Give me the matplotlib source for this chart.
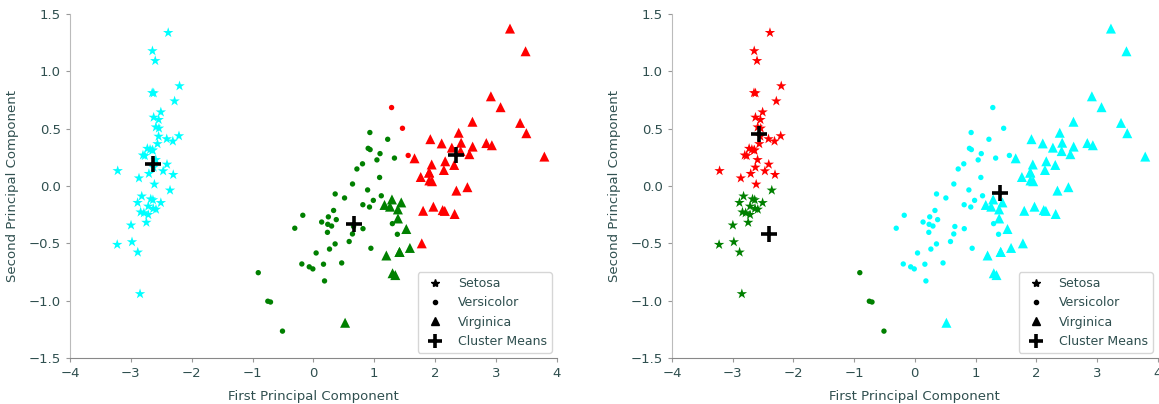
"""
Iris PCA projection coloured by two different 3-cluster solutions.
"""

import numpy as np
import matplotlib
matplotlib.use("Agg")
import matplotlib.pyplot as plt
from matplotlib.lines import Line2D

# First / second principal component of the 150 iris samples
PC1 = [
    -2.684, -2.714, -2.889, -2.745, -2.729, -2.281, -2.821, -2.626, -2.886, -2.673,
    -2.507, -2.613, -2.786, -3.224, -2.645, -2.386, -2.624, -2.648, -2.200, -2.588,
    -2.310, -2.544, -3.216, -2.303, -2.356, -2.507, -2.469, -2.562, -2.640, -2.632,
    -2.587, -2.410, -2.649, -2.599, -2.637, -2.866, -2.625, -2.801, -2.981, -2.590,
    -2.770, -2.849, -2.997, -2.406, -2.209, -2.714, -2.538, -2.839, -2.543, -2.703,
    1.285, 0.932, 1.464, 0.183, 1.088, 0.642, 1.095, -0.749, 1.044, -0.009,
    -0.508, 0.512, 0.265, 0.985, -0.174, 0.928, 0.660, 0.236, 0.945, 0.045,
    1.116, 0.358, 1.298, 0.922, 0.715, 0.900, 1.332, 1.558, 0.813, -0.306,
    -0.068, -0.190, 0.136, 1.380, 0.588, 0.807, 1.221, 0.815, 0.246, 0.166,
    0.465, 0.891, 0.231, -0.705, 0.357, 0.332, 0.376, 0.643, -0.906, 0.299,
    2.531, 1.415, 2.617, 1.972, 2.350, 3.397, 0.521, 2.933, 2.321, 2.917,
    1.662, 1.803, 2.166, 1.346, 1.586, 1.904, 1.950, 3.487, 3.796, 1.301,
    2.428, 1.199, 3.500, 1.389, 2.275, 2.614, 1.259, 1.291, 2.124, 2.388,
    2.842, 3.231, 2.159, 1.444, 1.781, 3.076, 2.144, 1.905, 1.169, 2.108,
    2.314, 1.922, 1.415, 2.563, 2.419, 1.944, 1.527, 1.764, 1.901, 1.390,
]
PC2 = [
    0.319, -0.177, -0.145, -0.318, 0.327, 0.741, -0.089, 0.163, -0.578, -0.114,
    0.645, 0.015, -0.235, -0.511, 1.179, 1.338, 0.811, 0.312, 0.873, 0.514,
    0.391, 0.433, 0.133, 0.099, -0.037, -0.146, 0.131, 0.368, 0.312, -0.197,
    -0.204, 0.411, 0.813, 1.093, -0.121, 0.069, 0.599, 0.269, -0.488, 0.229,
    0.264, -0.941, -0.342, 0.189, 0.437, -0.250, 0.504, -0.228, 0.579, 0.108,
    0.685, 0.318, 0.504, -0.828, 0.075, -0.418, 0.283, -1.005, 0.228, -0.723,
    -1.266, -0.104, -0.550, -0.125, -0.255, 0.467, -0.353, -0.334, -0.543, -0.584,
    -0.085, -0.069, -0.328, -0.183, 0.149, 0.329, 0.244, 0.267, -0.163, -0.368,
    -0.705, -0.680, -0.314, -0.421, -0.484, 0.194, 0.408, -0.372, -0.269, -0.682,
    -0.671, -0.034, -0.404, -1.012, -0.505, -0.213, -0.293, 0.018, -0.756, -0.349,
    -0.010, -0.575, 0.344, -0.180, -0.040, 0.551, -1.193, 0.356, -0.244, 0.783,
    0.242, -0.216, 0.216, -0.777, -0.540, 0.119, 0.042, 1.176, 0.257, -0.761,
    0.378, -0.606, 0.461, -0.204, 0.335, 0.561, -0.180, -0.117, -0.210, 0.465,
    0.375, 1.374, -0.217, -0.143, -0.500, 0.688, 0.140, 0.049, -0.165, 0.372,
    0.184, 0.409, -0.575, 0.278, 0.305, 0.188, -0.375, 0.079, 0.117, -0.283,
]

SPECIES = ["Setosa", "Versicolor", "Virginica"]
species = [0] * 50 + [1] * 50 + [2] * 50
MARKERS = ["*", "o", "^"]
SIZES = [62, 15, 52]

# cluster of each sample, left panel (cyan / green / red)
labels_left = (
    [0] * 50
    + [2, 1, 2, 1, 1, 1, 1, 1, 1, 1, 1, 1, 1, 1, 1, 1, 1, 1, 1, 1,
       1, 1, 1, 1, 1, 1, 1, 2, 1, 1, 1, 1, 1, 1, 1, 1, 1, 1, 1, 1,
       1, 1, 1, 1, 1, 1, 1, 1, 1, 1]
    + [2, 1, 2, 2, 2, 2, 1, 2, 2, 2, 2, 2, 2, 1, 1, 2, 2, 2, 2, 1,
       2, 1, 2, 1, 2, 2, 1, 1, 2, 2, 2, 2, 2, 1, 2, 2, 2, 2, 1, 2,
       2, 2, 1, 2, 2, 2, 1, 2, 2, 1]
)
colors_left = ["cyan", "green", "red"]

# cluster of each sample, right panel (red / green / cyan)
labels_right = (
    [0, 1, 1, 1, 0, 0, 1, 0, 1, 1, 0, 0, 1, 1, 0, 0, 0, 0, 0, 0,
     0, 0, 0, 0, 1, 1, 0, 0, 0, 1, 1, 0, 0, 0, 1, 0, 0, 0, 1, 0,
     0, 1, 1, 0, 0, 1, 0, 1, 0, 0]
    + [2, 2, 2, 2, 2, 2, 2, 1, 2, 2, 1, 2, 2, 2, 2, 2, 2, 2, 2, 2,
       2, 2, 2, 2, 2, 2, 2, 2, 2, 2, 2, 2, 2, 2, 2, 2, 2, 2, 2, 2,
       2, 2, 2, 1, 2, 2, 2, 2, 1, 2]
    + [2] * 50
)
colors_right = ["red", "green", "cyan"]

TEXT = "#2f4f4f"


def draw_panel(ax, labels, palette):
    x = np.array(PC1)
    y = np.array(PC2)
    sp = np.array(species)
    lab = np.array(labels)
    cols = np.array([palette[k] for k in labels])
    for s in range(3):
        m = sp == s
        ax.scatter(x[m], y[m], c=cols[m], marker=MARKERS[s], s=SIZES[s],
                   linewidths=0, zorder=2)
    for k in range(3):
        m = lab == k
        ax.scatter(x[m].mean(), y[m].mean(), marker="+", s=140,
                   linewidths=2.6, color="black", zorder=3)

    ax.set_xlim(-4, 4)
    ax.set_ylim(-1.5, 1.5)
    ax.set_xticks(range(-4, 5))
    ax.set_yticks(np.arange(-1.5, 1.51, 0.5))
    ax.set_xlabel("First Principal Component", color=TEXT, fontsize=9.5, labelpad=7)
    ax.set_ylabel("Second Principal Component", color=TEXT, fontsize=9.5, labelpad=7)
    for side in ("top", "right"):
        ax.spines[side].set_visible(False)
    ax.spines["left"].set_color("#bbbbbb")
    ax.spines["bottom"].set_color("#888888")
    ax.tick_params(colors="#999999", labelcolor=TEXT, labelsize=9.5, length=3)

    handles = [
        Line2D([], [], ls="", marker="*", color="k", ms=6),
        Line2D([], [], ls="", marker="o", color="k", ms=3),
        Line2D([], [], ls="", marker="^", color="k", ms=6),
        Line2D([], [], ls="", marker="+", color="k", ms=10, mew=2.6),
    ]
    leg = ax.legend(handles, SPECIES + ["Cluster Means"], loc="lower right",
                    fontsize=9, labelcolor=TEXT, borderaxespad=0.4)
    leg.get_frame().set_edgecolor("#cccccc")


fig = plt.figure(figsize=(11.59, 4.04), dpi=100)
ax1 = fig.add_axes([0.0604, 0.114, 0.420, 0.851])
ax2 = fig.add_axes([0.5798, 0.114, 0.419, 0.851])
draw_panel(ax1, labels_left, colors_left)
draw_panel(ax2, labels_right, colors_right)

fig.savefig("out.png", dpi=100)
